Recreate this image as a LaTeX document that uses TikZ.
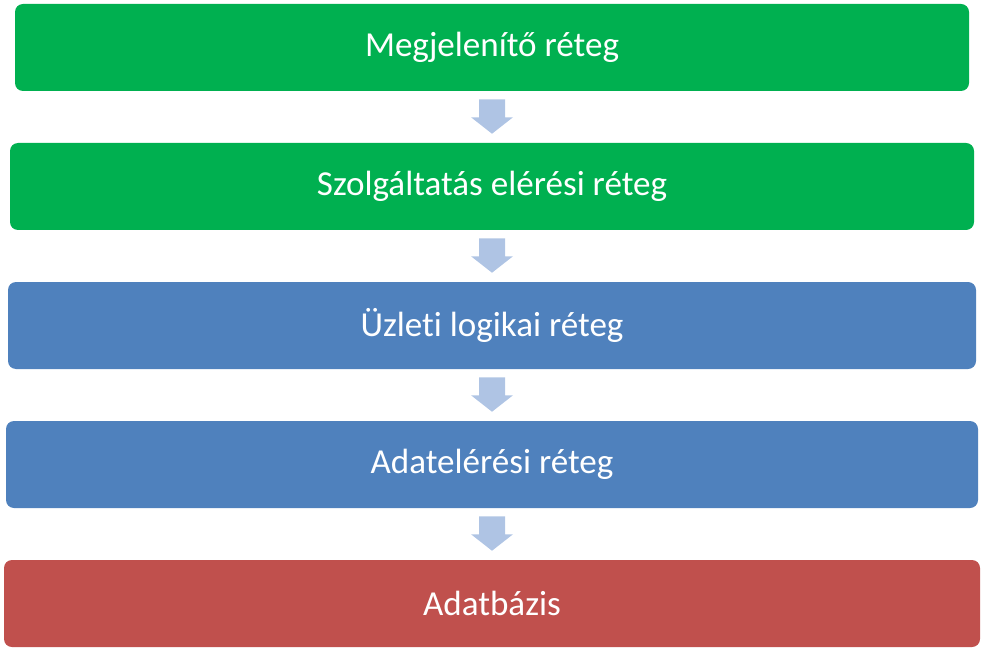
\documentclass[tikz,border=0pt]{standalone}
\usepackage{fontspec}
\setmainfont{Carlito}[Ligatures=NoCommon]
\usetikzlibrary{calc}
\definecolor{cgreen}{RGB}{0,176,80}
\definecolor{cblue}{RGB}{79,129,189}
\definecolor{cred}{RGB}{192,80,77}
\definecolor{carrow}{RGB}{175,196,228}
\tikzset{
  layer/.style={rounded corners=8*0.75pt, inner sep=0pt, text=white,
    font=\fontsize{26.3}{30}\selectfont, minimum height=87*0.75pt},
  blockarrow/.style={fill=carrow, draw=none}
}
\newcommand{\lowtext}[1]{\raisebox{-1.8pt}{#1}}
\newcommand{\downarr}[2]{%
  \fill[blockarrow] ($(#1.south)+(-13,8)$) -- ($(#1.south)+(13,8)$) -- ($(#1.south)+(13,26)$)
   -- ($(#1.south)+(21,26)$) -- ($(#2.north)+(0,-9)$) -- ($(#1.south)+(-21,26)$)
   -- ($(#1.south)+(-13,26)$) -- cycle;}
\begin{document}
\begin{tikzpicture}[x=0.75pt,y=-0.75pt]
\useasboundingbox (0,0) rectangle (984,652);
\node[layer, fill=cgreen, minimum width=954*0.75pt] (l1) at (492,47.5) {\lowtext{Megjelenítő réteg}};
\node[layer, fill=cgreen, minimum width=964*0.75pt] (l2) at (492,186.5) {\lowtext{Szolgáltatás elérési réteg}};
\node[layer, fill=cblue, minimum width=968*0.75pt] (l3) at (492,325.5) {\lowtext{Üzleti logikai réteg}};
\node[layer, fill=cblue, minimum width=972*0.75pt] (l4) at (492,464.5) {\lowtext{Adatelérési réteg}};
\node[layer, fill=cred, minimum width=976*0.75pt] (l5) at (492,603.5) {\lowtext{Adatbázis}};
\downarr{l1}{l2}
\downarr{l2}{l3}
\downarr{l3}{l4}
\downarr{l4}{l5}
\end{tikzpicture}
\end{document}
